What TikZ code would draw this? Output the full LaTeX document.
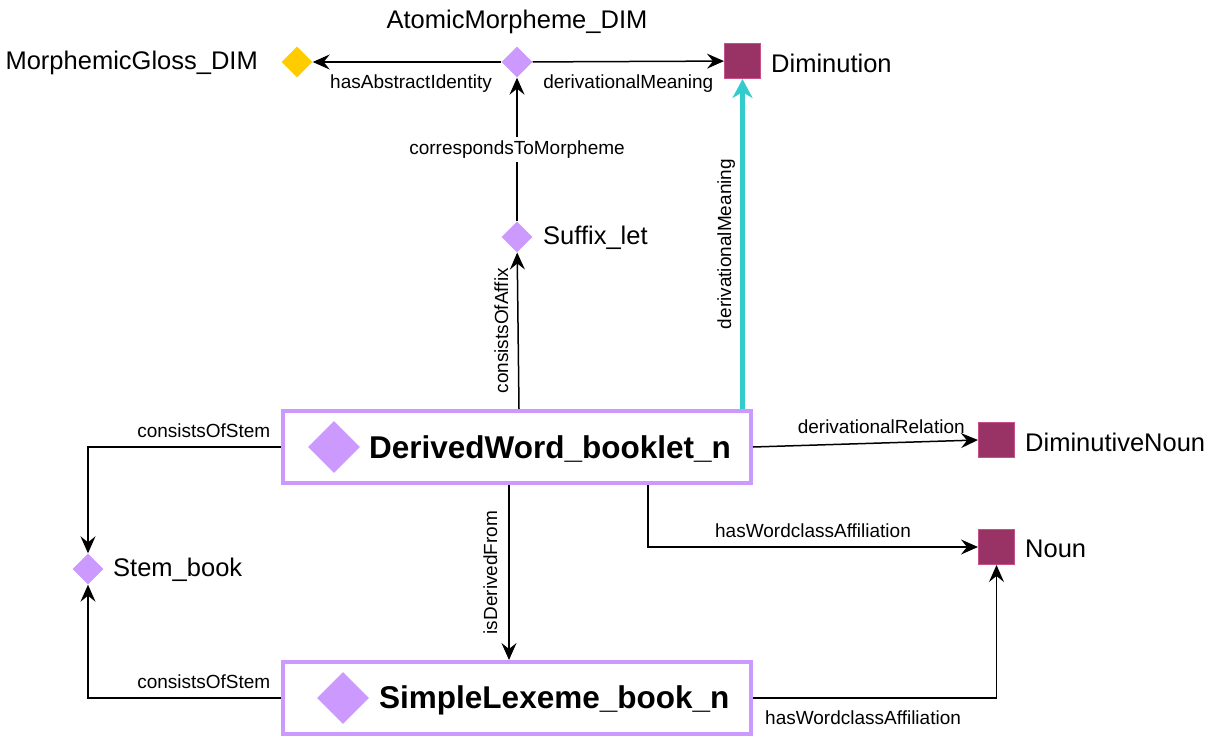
\documentclass[tikz,border=0pt]{standalone}
\usepackage{fontspec}
\setmainfont{Liberation Sans}
\usetikzlibrary{shapes.geometric,arrows.meta,calc}
\definecolor{lilac}{HTML}{CC99FF}
\definecolor{gold}{HTML}{FFCC00}
\definecolor{plum}{HTML}{993366}
\definecolor{plumedge}{HTML}{C8508A}
\definecolor{teal}{HTML}{33CCCC}
\tikzset{
  small/.style={font=\fontsize{19}{22}\selectfont},
  big/.style={font=\fontsize{25.5}{30}\selectfont, anchor=west, inner sep=0pt},
  bold/.style={font=\fontsize{31.5}{36}\selectfont\bfseries, anchor=west, inner sep=0pt},
  lbl/.style={small, inner sep=2pt},
  gem/.style={diamond, fill=lilac, draw=none, minimum width=31, minimum height=31, inner sep=0pt},
  biggem/.style={diamond, fill=lilac, draw=none, minimum width=52, minimum height=52, inner sep=0pt},
  goldgem/.style={gem, fill=gold},
  sq/.style={rectangle, fill=plum, draw=plumedge, line width=1pt, minimum width=36, minimum height=35, inner sep=0pt},
  frame/.style={rectangle, draw=lilac, line width=4pt, minimum width=468, minimum height=72, inner sep=0pt},
  arr/.style={draw=black, line width=1.5pt, -{Stealth[length=17pt,width=15pt,inset=6pt]}},
  cyanarr/.style={draw=teal, line width=5pt, -{Stealth[length=19pt,width=20pt,inset=6pt]}},
}
\begin{document}
\begin{tikzpicture}[x=1pt,y=-1pt]
\useasboundingbox (0,0) rectangle (1211,741);

% entity markers
\node[goldgem] (gl) at (297,62) {};
\node[gem] (am) at (517,62) {};
\node[sq] (dim) at (742.5,61) {};
\node[gem] (suf) at (517,237) {};
\node[gem] (stem) at (88,569) {};
\node[sq] (dn) at (996.5,440) {};
\node[sq] (noun) at (996.5,547) {};

% the two framed individuals
\node[frame] (dw) at (517,447) {};
\node[biggem] (dwg) at (334,447) {};
\node[bold] (dwt) at (369,449) {DerivedWord\_booklet\_n};
\node[frame] (sl) at (517,698) {};
\node[biggem] (slg) at (343,698) {};
\node[bold] (slt) at (379,700) {SimpleLexeme\_book\_n};

% names
\node[big, anchor=east] (glt) at (258,63) {MorphemicGloss\_DIM};
\node[big, anchor=center] (amt) at (517,22) {AtomicMorpheme\_DIM};
\node[big] (dimt) at (771,63) {Diminution};
\node[big] (suft) at (543,238) {Suffix\_let};
\node[big] (stemt) at (113,570) {Stem\_book};
\node[big] (dnt) at (1025,442) {DiminutiveNoun};
\node[big] (nount) at (1025,549) {Noun};

% relations
\draw[arr] (am) -- node[lbl, below=10pt, xshift=4pt] {hasAbstractIdentity} (gl);
\draw[arr] (am) -- node[lbl, below=10pt] {derivationalMeaning} (dim);
\draw[arr] (suf) -- node[lbl, fill=white, inner sep=4pt] {correspondsToMorpheme} (am);
\draw[arr] ($(dw.north)+(2,0)$) -- node[lbl, midway, rotate=90, anchor=south, yshift=7pt] {consistsOfAffix} (suf);
\draw[cyanarr] (dim.south |- dw.north) -- node[lbl, midway, rotate=90, anchor=south, yshift=3pt] {derivationalMeaning} (dim.south);
\draw[arr] (dw.east) -- node[lbl, pos=0.57, above=7pt] {derivationalRelation} (dn.west);
\draw[arr] ($(dw.south)+(131,0)$) |- node[lbl, pos=0.75, above=7pt] {hasWordclassAffiliation} (noun.west);
\draw[arr] (sl.east) -| node[lbl, pos=0.226, below=10pt] {hasWordclassAffiliation} (noun.south);
\draw[arr] ($(dw.south)+(-8,0)$) -- node[lbl, midway, rotate=90, anchor=south, yshift=9pt] {isDerivedFrom} ($(sl.north)+(-8,0)$);
\draw[arr] (dw.west) -| node[lbl, pos=0.2, above=7pt] {consistsOfStem} (stem.north);
\draw[arr] (sl.west) -| node[lbl, pos=0.2, above=7pt] {consistsOfStem} (stem.south);
\end{tikzpicture}
\end{document}
